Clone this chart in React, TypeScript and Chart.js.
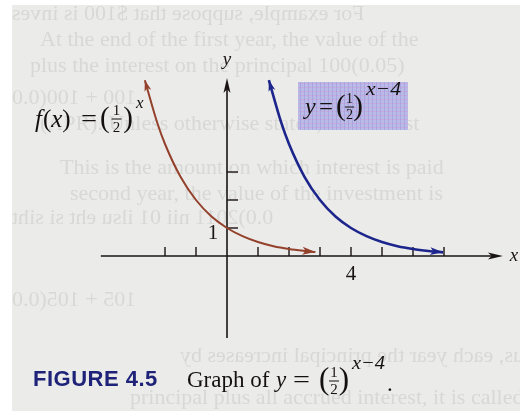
import React, { useEffect, useRef } from "react";
import { Chart, registerables } from "chart.js";

Chart.register(...registerables);

// f(x) = (1/2)^x, sampled along the drawn arc
const baseX = [-2.65, -2.25, -2, -1.5, -1, -0.5, 0, 0.5, 1, 1.5, 2, 2.5, 2.85];
const baseY = [6.28, 4.76, 4, 2.83, 2, 1.41, 1, 0.71, 0.5, 0.35, 0.25, 0.18, 0.14];

// y = (1/2)^(x-4), the same arc moved 4 units right
const shiftedX = [1.35, 1.75, 2, 2.5, 3, 3.5, 4, 4.5, 5, 5.5, 6, 6.5, 6.97];
const shiftedY = [6.28, 4.76, 4, 2.83, 2, 1.41, 1, 0.71, 0.5, 0.35, 0.25, 0.18, 0.13];

const xTicks = [-2, -1, 1, 2, 3, 4, 5, 6, 7];
const xTickLabels = [{ v: 4, t: "4" }];
const yTicks = [1, 2, 3];
const yTickLabels = [{ v: 1, t: "1" }];

// show-through text from the facing page
const ghostLines: { t: string; x: number; y: number; flip?: boolean }[] = [
  { t: "For example, suppose that $100 is inves", x: 12, y: 14, flip: true },
  { t: "At the end of the first year, the value of the", x: 40, y: 40 },
  { t: "plus the interest on the principal 100(0.05)", x: 30, y: 66 },
  { t: "100 + 100(0.0", x: 12, y: 98, flip: true },
  { t: "(APR). Unless otherwise stated, all interest", x: 40, y: 124 },
  { t: "This is the amount on which interest is paid", x: 60, y: 168 },
  { t: "second year, the value of the investment is", x: 70, y: 194 },
  { t: "0.0)2011 nii 01 ilsu eht si siht", x: 12, y: 218, flip: true },
  { t: "105 + 105(0.0", x: 12, y: 300, flip: true },
  { t: "Thus, each year the principal increases by", x: 180, y: 356, flip: true },
  { t: "principal plus all accrued interest, it is called", x: 130, y: 398 },
];

const SERIF = '"Liberation Serif", "DejaVu Serif", serif';
const SANS = '"Liberation Sans", Arial, sans-serif';

// draws text starting at x; when w is given the run is stretched to span w pixels
function put(ctx: CanvasRenderingContext2D, s: string, x: number, y: number, font: string, w?: number) {
  ctx.font = font;
  ctx.textAlign = "left";
  ctx.textBaseline = "middle";
  const m = ctx.measureText(s).width;
  if (w && m > 0) {
    ctx.save();
    ctx.translate(x, y);
    ctx.scale(w / m, 1);
    ctx.fillText(s, 0, 0);
    ctx.restore();
    return x + w;
  }
  ctx.fillText(s, x, y);
  return x + m;
}

// "(1/2)" between x0 and x1
function frac(ctx: CanvasRenderingContext2D, x0: number, x1: number, mid: number, big: number, small: number) {
  const pf = `${big}px ${SERIF}`;
  ctx.font = pf;
  const rw = ctx.measureText(")").width;
  put(ctx, "(", x0, mid, pf);
  put(ctx, ")", x1 - rw, mid, pf);
  const cx = (x0 + x1) / 2;
  ctx.font = `${small}px ${SERIF}`;
  ctx.textAlign = "center";
  ctx.fillText("1", cx, mid - small * 0.55);
  ctx.fillText("2", cx, mid + small * 0.62);
  ctx.fillRect(cx - small * 0.33, mid - 0.5, small * 0.66, 1);
  ctx.textAlign = "left";
}

function arrowHead(ctx: CanvasRenderingContext2D, tipX: number, tipY: number, fromX: number, fromY: number, len: number, half: number, color: string) {
  const dx = tipX - fromX;
  const dy = tipY - fromY;
  const d = Math.hypot(dx, dy) || 1;
  const ux = dx / d;
  const uy = dy / d;
  ctx.save();
  ctx.fillStyle = color;
  ctx.beginPath();
  ctx.moveTo(tipX, tipY);
  ctx.lineTo(tipX - ux * len - uy * half, tipY - uy * len + ux * half);
  ctx.lineTo(tipX - ux * len * 0.75, tipY - uy * len * 0.75);
  ctx.lineTo(tipX - ux * len + uy * half, tipY - uy * len - ux * half);
  ctx.closePath();
  ctx.fill();
  ctx.restore();
}

const paperPlugin = {
  id: "paper",
  beforeDraw(chart: any) {
    const ctx: CanvasRenderingContext2D = chart.ctx;
    const { width, height } = chart;
    ctx.save();
    ctx.fillStyle = "#ffffff";
    ctx.fillRect(0, 0, width, height);
    ctx.fillStyle = "#ebebe9";
    ctx.fillRect(12, 5, width - 12, height - 5);
    ctx.beginPath();
    ctx.rect(12, 5, width - 12, height - 5);
    ctx.clip();
    ctx.font = `22px ${SERIF}`;
    ctx.fillStyle = "rgba(110,110,110,0.15)";
    ctx.textBaseline = "middle";
    for (const g of ghostLines) {
      if (g.flip) {
        const w = ctx.measureText(g.t).width;
        ctx.save();
        ctx.translate(g.x + w, g.y);
        ctx.scale(-1, 1);
        ctx.fillText(g.t, 0, 0);
        ctx.restore();
      } else {
        ctx.fillText(g.t, g.x, g.y);
      }
    }
    ctx.restore();
  },
  beforeDatasetsDraw(chart: any) {
    const ctx: CanvasRenderingContext2D = chart.ctx;
    const xs = chart.scales.x;
    const ys = chart.scales.y;
    const ox = xs.getPixelForValue(0);
    const oy = ys.getPixelForValue(0);
    ctx.save();
    ctx.strokeStyle = "#1a1414";
    ctx.fillStyle = "#1a1414";
    ctx.lineWidth = 1.6;
    // x axis
    const xl = xs.getPixelForValue(-4.07);
    const xr = xs.getPixelForValue(8.9);
    ctx.beginPath();
    ctx.moveTo(xl, oy);
    ctx.lineTo(xr - 8, oy);
    ctx.stroke();
    arrowHead(ctx, xr, oy, xl, oy, 15, 3.5, "#1a1414");
    // y axis
    const yb = ys.getPixelForValue(-2.93);
    const yt = ys.getPixelForValue(6.36);
    ctx.beginPath();
    ctx.moveTo(ox, yb);
    ctx.lineTo(ox, yt + 8);
    ctx.stroke();
    arrowHead(ctx, ox, yt, ox, yb, 15, 3.5, "#1a1414");
    // ticks
    ctx.lineWidth = 1.4;
    for (const t of xTicks) {
      const px = xs.getPixelForValue(t);
      ctx.beginPath();
      ctx.moveTo(px, oy);
      ctx.lineTo(px, oy - 9);
      ctx.stroke();
    }
    for (const t of yTicks) {
      const py = ys.getPixelForValue(t);
      ctx.beginPath();
      ctx.moveTo(ox, py);
      ctx.lineTo(ox + 11, py);
      ctx.stroke();
    }
    ctx.font = `21px ${SERIF}`;
    ctx.textBaseline = "middle";
    ctx.textAlign = "center";
    for (const l of xTickLabels) {
      ctx.fillText(l.t, xs.getPixelForValue(l.v), oy + 18);
    }
    for (const l of yTickLabels) {
      ctx.fillText(l.t, ox - 14, ys.getPixelForValue(l.v) + 5);
    }
    ctx.font = `italic 19px ${SERIF}`;
    ctx.fillText("y", ox, yt - 18);
    ctx.fillText("x", xr + 11, oy);
    ctx.restore();
  },
  afterDatasetsDraw(chart: any) {
    const ctx: CanvasRenderingContext2D = chart.ctx;
    chart.data.datasets.forEach((ds: any, i: number) => {
      const pts = chart.getDatasetMeta(i).data;
      const n = pts.length;
      const c = ds.borderColor;
      arrowHead(ctx, pts[n - 1].x, pts[n - 1].y, pts[n - 2].x, pts[n - 2].y, 13, 4, c);
      arrowHead(ctx, pts[0].x, pts[0].y, pts[1].x, pts[1].y, 11, 3.5, c);
    });

    ctx.save();
    ctx.fillStyle = "#141010";

    // f(x) label
    let x = 35;
    x = put(ctx, "f", x, 120, `italic 25px ${SERIF}`) + 1;
    x = put(ctx, "(", x, 120, `25px ${SERIF}`);
    x = put(ctx, "x", x, 120, `italic 25px ${SERIF}`);
    put(ctx, ")", x, 120, `25px ${SERIF}`);
    put(ctx, "=", 81, 120, `25px ${SERIF}`, 16);
    frac(ctx, 100, 133, 119, 29, 15);
    put(ctx, "x", 136, 104, `italic 17px ${SERIF}`);

    // boxed label for the shifted curve
    const bx = 298, by = 82, bw = 110, bh = 48;
    ctx.fillStyle = "#b9bbe6";
    ctx.fillRect(bx, by, bw, bh);
    ctx.fillStyle = "rgba(214,150,214,0.45)";
    for (let yy = by + 1; yy < by + bh; yy += 4) ctx.fillRect(bx, yy, bw, 1);
    ctx.fillStyle = "rgba(150,150,220,0.5)";
    for (let xx = bx + 2; xx < bx + bw; xx += 4) ctx.fillRect(xx, by, 1, bh);
    ctx.fillStyle = "#141010";
    put(ctx, "y", 305, 108, `italic 24px ${SERIF}`);
    put(ctx, "=", 319, 108, `24px ${SERIF}`, 14);
    frac(ctx, 336, 363, 107, 29, 14);
    put(ctx, "x\u22124", 366, 90, `italic 19px ${SERIF}`, 35);

    // caption
    ctx.fillStyle = "#1e2278";
    (ctx as any).letterSpacing = "0.5px";
    put(ctx, "FIGURE 4.5", 33, 380, `bold 22px ${SANS}`);
    (ctx as any).letterSpacing = "0px";
    ctx.fillStyle = "#141010";
    put(ctx, "Graph of", 187, 381, `23px ${SERIF}`);
    put(ctx, "y", 276, 381, `italic 23px ${SERIF}`);
    put(ctx, "=", 293, 381, `23px ${SERIF}`, 17);
    frac(ctx, 319, 349, 381, 31, 15);
    const e = put(ctx, "x\u22124", 352, 364, `italic 19px ${SERIF}`, 33);
    put(ctx, ".", e + 2, 385, `23px ${SERIF}`);
    ctx.restore();
  },
};

export default function App() {
  const ref = useRef<HTMLCanvasElement | null>(null);

  useEffect(() => {
    if (!ref.current) return;
    const toPts = (xs: number[], ys: number[]) => xs.map((v, i) => ({ x: v, y: ys[i] }));
    const chart = new Chart(ref.current, {
      type: "line",
      data: {
        datasets: [
          {
            data: toPts(baseX, baseY),
            borderColor: "#94412c",
            borderWidth: 2,
            pointRadius: 0,
            cubicInterpolationMode: "monotone",
          },
          {
            data: toPts(shiftedX, shiftedY),
            borderColor: "#1c258c",
            borderWidth: 2.6,
            pointRadius: 0,
            cubicInterpolationMode: "monotone",
          },
        ],
      },
      options: {
        responsive: false,
        animation: false,
        layout: { padding: 0 },
        plugins: { legend: { display: false }, tooltip: { enabled: false } },
        scales: {
          x: { type: "linear", min: -227 / 31, max: (520 - 227) / 31, display: false },
          y: { type: "linear", min: (256 - 411) / 28, max: 256 / 28, display: false },
        },
      },
      plugins: [paperPlugin],
    } as any);
    return () => chart.destroy();
  }, []);

  return (
    <div style={{ position: "absolute", left: 0, top: 0 }}>
      <canvas ref={ref} width={520} height={411} style={{ display: "block" }} />
    </div>
  );
}
